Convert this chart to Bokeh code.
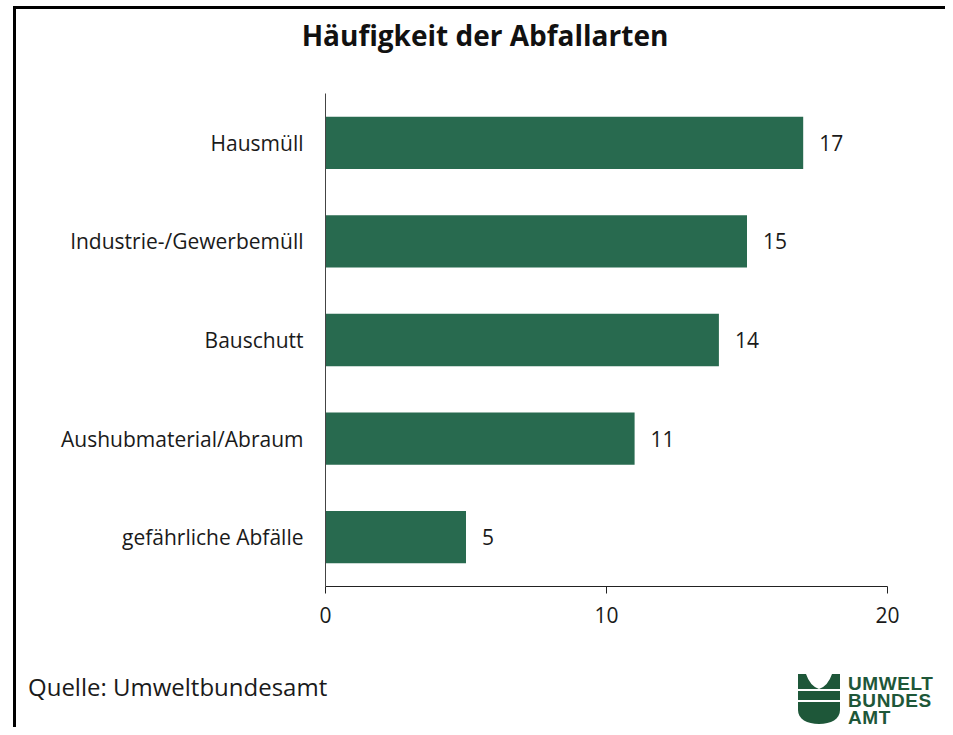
from bokeh.plotting import figure
from bokeh.models import ColumnDataSource, LabelSet, Range1d, FixedTicker, Div, Spacer
from bokeh.layouts import column, row
from bokeh.embed import file_html
from bokeh.resources import INLINE
from bokeh.core.properties import value

# ---- data ----
categories = ["Hausmüll", "Industrie-/Gewerbemüll", "Bauschutt",
              "Aushubmaterial/Abraum", "gefährliche Abfälle"]
counts = [17, 15, 14, 11, 5]
x_ticks = [0, 10, 20]
title_text = "Häufigkeit der Abfallarten"
source_text = "Quelle: Umweltbundesamt"
logo_lines = ["UMWELT", "BUNDES", "AMT"]

# ---- style ----
BAR = "#286A4F"
LOGO = "#1E5739"
FONT = "Open Sans"
TXT = "#1a1a1a"
FS = "21px"

W = 929          # width of the content column
H_TITLE = 64
H_MAIN = 573
H_BOT = 81

src = ColumnDataSource(dict(cat=categories, val=counts,
                            lab=[str(v) for v in counts]))

p = figure(y_range=list(reversed(categories)), x_range=Range1d(0, 20),
           width=W, height=H_MAIN, output_backend="svg", toolbar_location=None,
           min_border_left=309, min_border_right=58, min_border_top=20,
           min_border_bottom=60, margin=0)
p.outline_line_color = None
p.xgrid.visible = False
p.ygrid.visible = False
p.background_fill_color = "white"
p.border_fill_color = "white"

p.hbar(y="cat", right="val", left=0, height=0.53, source=src,
       fill_color=BAR, line_color=None)

p.add_layout(LabelSet(x="val", y="cat", text="lab", source=src, x_offset=16,
                      text_baseline="middle", text_font=value(FONT),
                      text_font_size=FS, text_color=TXT))

# axes
p.xaxis.ticker = FixedTicker(ticks=x_ticks)
p.xaxis.major_tick_in = 0
p.xaxis.major_tick_out = 7
p.xaxis.minor_tick_line_color = None
p.xaxis.axis_line_color = "#222222"
p.xaxis.major_tick_line_color = "#222222"
p.xaxis.major_label_standoff = 13
p.xaxis.major_label_text_font = FONT
p.xaxis.major_label_text_font_size = FS
p.xaxis.major_label_text_color = TXT

p.yaxis.major_tick_line_color = None
p.yaxis.minor_tick_line_color = None
p.yaxis.axis_line_color = "#444444"
p.yaxis.major_label_standoff = 16
p.yaxis.major_label_text_font = FONT
p.yaxis.major_label_text_font_size = FS
p.yaxis.major_label_text_color = TXT

# ---- title ----
title_div = Div(width=W, height=H_TITLE, margin=0, text=(
    f'<div style="font-family:\'Open Sans\';font-size:28px;font-weight:bold;'
    f'color:#111;text-align:center;width:{W}px;box-sizing:border-box;'
    f'padding-left:9px;margin:0;padding-top:7px;'
    f'line-height:normal;white-space:nowrap">{title_text}</div>'))

# ---- bottom strip: source + logo ----
source_div = Div(width=760, height=H_BOT, margin=0, text=(
    f'<div style="font-family:\'Open Sans\';font-size:24px;color:{TXT};'
    f'padding-left:12px;margin:0;padding-top:24px;line-height:normal;white-space:nowrap">'
    f'{source_text}</div>'))

svg_text = "".join(
    f'<text x="72" y="{yb}" font-family="DejaVu Sans" font-weight="bold" '
    f'font-size="19" letter-spacing="0.6" fill="{LOGO}">{t}</text>'
    for t, yb in zip(logo_lines, [44, 61, 78]))
logo_svg = (
    f'<svg xmlns="http://www.w3.org/2000/svg" width="169" height="{H_BOT}" '
    f'style="display:block">'
    f'<g fill="{LOGO}">'
    f'<path d="M22,28 L30,28 Q34,40 43,43 L22,43 Z"/>'
    f'<path d="M64,28 L56,28 Q52,40 43,43 L64,43 Z"/>'
    f'<rect x="22" y="45" width="42" height="9"/>'
    f'<path d="M22,56 L64,56 L64,64 C64,73 55,78 43,78 C31,78 22,73 22,64 Z"/>'
    f'</g>{svg_text}</svg>')
logo_div = Div(width=169, height=H_BOT, margin=0, text=logo_svg)

bottom = row(source_div, logo_div, spacing=0, margin=0)

top_line = Div(width=W, height=3, margin=0, styles={"background-color": "black"})
left_line = Div(width=3, height=3 + H_TITLE + H_MAIN + H_BOT, margin=0,
                styles={"background-color": "black"})

content = column(top_line, title_div, p, bottom, spacing=0, margin=0)
layout = column(Spacer(width=10, height=6, margin=0),
                row(Spacer(width=13, height=10, margin=0), left_line, content,
                    spacing=0, margin=0),
                spacing=0, margin=0)

open("out.html", "w").write(file_html(layout, INLINE))
